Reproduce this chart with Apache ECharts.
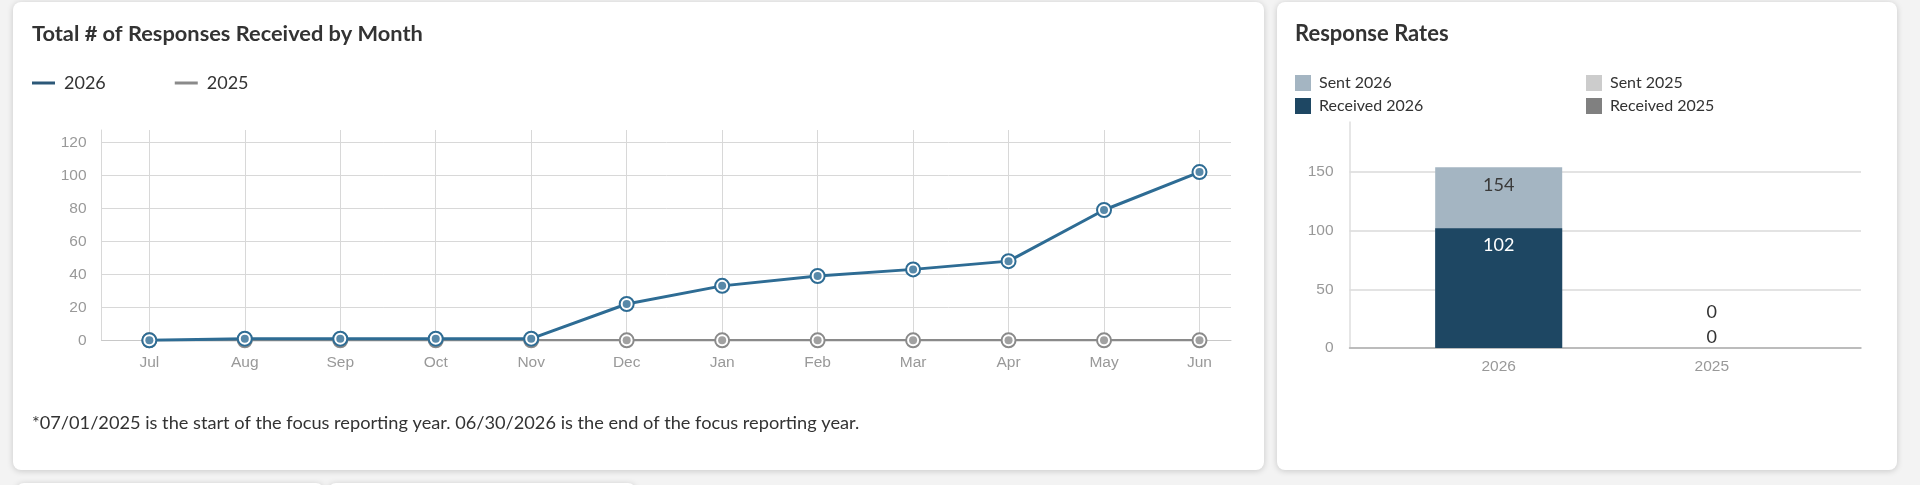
<!DOCTYPE html>
<html><head><meta charset="utf-8">
<script src="https://cdn.jsdelivr.net/npm/echarts@6/dist/echarts.min.js"></script>
<style>
html,body{margin:0;padding:0;background:#f3f3f3;width:1920px;height:485px;overflow:hidden;}
.card{position:absolute;background:#fff;border-radius:8px;box-shadow:0 1px 6px rgba(0,0,0,0.18);}
#chart{position:absolute;left:0;top:0;width:1920px;height:485px;}
</style></head><body>
<div class="card" style="left:13px;top:2px;width:1251px;height:468px"></div>
<div class="card" style="left:1277px;top:2px;width:620px;height:468px"></div>
<div class="card" style="left:16px;top:483px;width:308px;height:40px"></div>
<div class="card" style="left:328px;top:483px;width:308px;height:40px"></div>
<div id="chart"></div>
<script>
// ---- data ----
const months = ['Jul','Aug','Sep','Oct','Nov','Dec','Jan','Feb','Mar','Apr','May','Jun'];
const received2026 = [0, 1, 1, 1, 1, 22, 33, 39, 43, 48, 79, 102];
const received2025 = [0, 0, 0, 0, 0, 0, 0, 0, 0, 0, 0, 0];
const lineYTicks = [0, 20, 40, 60, 80, 100, 120];
const years = ['2026', '2025'];
const sentByYear = [154, 0];
const receivedByYear = [102, 0];
const barYTicks = [0, 50, 100, 150];

const BLUE = '#2e6c94', GRAY = '#8a8a8a';
const labelFont = {color:'#999', fontSize:15.5, fontFamily:'Liberation Sans, Arial, sans-serif'};
const lato = 'Lato, sans-serif';
const CLEAR = 'rgba(0,0,0,0)';
const isInt = v => Math.abs(v - Math.round(v)) < 1e-6;
const nameAt = (list, v) => (isInt(v) && list[Math.round(v)] !== undefined) ? list[Math.round(v)] : '';

const pairs = arr => arr.map((v, i) => [i, v]);

// style: vertical split lines of the month axis (ticks every 0.5 starting at -0.5)
const monthLineColors = [];
for (let k = 0; k < 40; k++) {
  const v = -0.5 + 0.5 * k;
  monthLineColors.push((k === 0 || (isInt(v) && v < months.length)) ? '#d8d8d8' : CLEAR);
}

const chart = echarts.init(document.getElementById('chart'), null, {renderer:'canvas'});
chart.setOption({
  animation: false,
  backgroundColor: 'transparent',
  title: [
    {text:'Total # of Responses Received by Month', left:32, top:23, padding:0,
     textStyle:{fontFamily:lato, fontSize:21.8, fontWeight:'bold', color:'#333'}},
    {text:'Response Rates', left:1295, top:23, padding:0,
     textStyle:{fontFamily:lato, fontSize:22, fontWeight:'bold', color:'#333'}},
    {text:'*07/01/2025 is the start of the focus reporting year. 06/30/2026 is the end of the focus reporting year.',
     left:32, top:414, padding:0,
     textStyle:{fontFamily:lato, fontSize:18.2, fontWeight:'normal', color:'#333'}}
  ],
  legend: [
    {left:32, top:74, padding:0, itemWidth:23, itemHeight:3, icon:'rect', itemGap:69,
     textStyle:{fontFamily:lato, fontSize:18, color:'#333', padding:[0,0,0,4]},
     data:[{name:'2026', itemStyle:{color:'#2c5878'}}, {name:'2025', itemStyle:{color:GRAY}}]},
    {left:1295, top:75, padding:0, orient:'vertical', itemWidth:16, itemHeight:16, itemGap:7, icon:'rect',
     textStyle:{fontFamily:lato, fontSize:16, color:'#333', padding:[0,0,0,3]},
     data:['Sent 2026','Received 2026']},
    {left:1586, top:75, padding:0, orient:'vertical', itemWidth:16, itemHeight:16, itemGap:7, icon:'rect',
     textStyle:{fontFamily:lato, fontSize:16, color:'#333', padding:[0,0,0,3]},
     data:['Sent 2025','Received 2025']}
  ],
  grid: [
    {left:101.6, right:689, top:130, bottom:144.7},
    {left:1349.5, right:59, top:122, bottom:137}
  ],
  xAxis: [
    {gridIndex:0, type:'value', min:-0.5, max:11.33, interval:0.5,
     axisLine:{show:true, onZero:false, lineStyle:{color:'#c8c8c8', width:1}},
     axisTick:{show:false},
     axisLabel:Object.assign({margin:14, formatter: v => nameAt(months, v)}, labelFont),
     splitLine:{show:true, lineStyle:{width:1, color:monthLineColors}}},
    {gridIndex:1, type:'value', min:-0.7, max:1.7, interval:0.1,
     axisLine:{show:true, onZero:false, lineStyle:{color:'#b0b0b0', width:1.5}},
     axisTick:{show:false},
     axisLabel:Object.assign({margin:11, formatter: v => nameAt(years, v)}, labelFont),
     splitLine:{show:false}}
  ],
  yAxis: [
    {gridIndex:0, type:'value', min:0, max:127.5, interval:20,
     axisLine:{show:true, onZero:false, lineStyle:{color:'#d8d8d8', width:1}},
     axisTick:{show:false},
     axisLabel:Object.assign({margin:15, formatter: v => lineYTicks.includes(v) ? String(v) : ''}, labelFont),
     splitLine:{show:true, lineStyle:{width:1, color:[...lineYTicks.map(() => '#d8d8d8'), CLEAR]}}},
    {gridIndex:1, type:'value', min:0, max:192.5, interval:50,
     axisLine:{show:true, onZero:false, lineStyle:{color:'#dedede', width:1.5}},
     axisTick:{show:false},
     axisLabel:Object.assign({margin:16, formatter: v => barYTicks.includes(v) ? String(v) : ''}, labelFont),
     splitLine:{show:true, lineStyle:{width:2, color:[...barYTicks.map(() => '#e3e3e3'), CLEAR]}}}
  ],
  series: [
    {name:'2025', type:'line', xAxisIndex:0, yAxisIndex:0, data:pairs(received2025),
     symbol:'emptyCircle', symbolSize:14, showAllSymbol:true, z:2,
     itemStyle:{color:GRAY, borderWidth:1.6}, lineStyle:{color:GRAY, width:2.5}},
    {name:'2025 dots', type:'scatter', xAxisIndex:0, yAxisIndex:0, data:pairs(received2025),
     symbol:'circle', symbolSize:8, z:3, silent:true, itemStyle:{color:GRAY}},
    {name:'2026', type:'line', xAxisIndex:0, yAxisIndex:0, data:pairs(received2026),
     symbol:'emptyCircle', symbolSize:14, showAllSymbol:true, z:4,
     itemStyle:{color:BLUE, borderWidth:1.6}, lineStyle:{color:BLUE, width:3}},
    {name:'2026 dots', type:'scatter', xAxisIndex:0, yAxisIndex:0, data:pairs(received2026),
     symbol:'circle', symbolSize:8, z:5, silent:true, itemStyle:{color:BLUE}},

    {name:'Sent 2026', type:'bar', xAxisIndex:1, yAxisIndex:1, data:[[0, sentByYear[0]]],
     barWidth:127, barGap:'-100%', itemStyle:{color:'#a4b5c2'},
     label:{show:true, position:'insideTop', distance:9, color:'#3a3a3a', fontFamily:lato, fontSize:18}},
    {name:'Received 2026', type:'bar', xAxisIndex:1, yAxisIndex:1, data:[[0, receivedByYear[0]]],
     barWidth:127, barGap:'-100%', itemStyle:{color:'#1e4763'},
     label:{show:true, position:'insideTop', distance:8, color:'#fff', fontFamily:lato, fontSize:18}},
    {name:'Sent 2025', type:'bar', xAxisIndex:1, yAxisIndex:1, data:[[1, sentByYear[1]]],
     barWidth:127, barGap:'-100%', itemStyle:{color:'#cccccc'},
     label:{show:true, position:'top', distance:27, color:'#333', fontFamily:lato, fontSize:18}},
    {name:'Received 2025', type:'bar', xAxisIndex:1, yAxisIndex:1, data:[[1, receivedByYear[1]]],
     barWidth:127, barGap:'-100%', itemStyle:{color:'#808080'},
     label:{show:true, position:'top', distance:2, color:'#333', fontFamily:lato, fontSize:18}}
  ]
});
</script>
</body></html>
